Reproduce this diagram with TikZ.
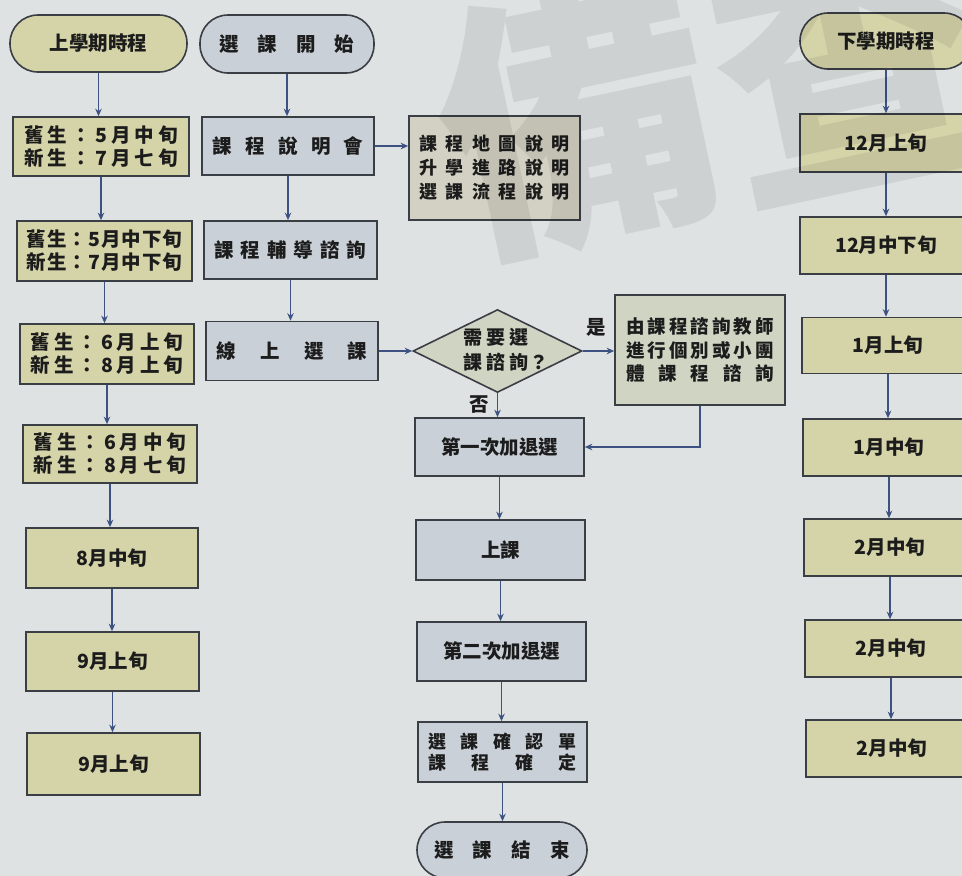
\documentclass[tikz,border=0pt]{standalone}
\usepackage{fontspec}
\setmainfont{Noto Sans CJK TC}
\usetikzlibrary{arrows.meta,shapes.geometric}
\definecolor{bg}{HTML}{DEE2E2}
\definecolor{olivefill}{HTML}{D5D4A9}
\definecolor{bluefill}{HTML}{C9D0D7}
\definecolor{infofill}{HTML}{D3D1C3}
\definecolor{consfill}{HTML}{CFD4C3}
\definecolor{edgecol}{HTML}{3A3E45}
\definecolor{arrcol}{HTML}{3D5283}
\definecolor{txt}{HTML}{1C1C1C}
\newcommand\spreadtext[2]{\makebox[#1][s]{#2}}
\begin{document}
\begin{tikzpicture}[x=1pt,y=-1pt,
  font=\bfseries\fontsize{19.5}{23}\selectfont,
  box/.style={draw=edgecol, line width=1.6pt, inner sep=0pt, align=center, text=txt},
  olbox/.style={box, fill=olivefill},
  blbox/.style={box, fill=bluefill},
  termin/.style={rounded corners=28pt},
  flowarrow/.style={draw=arrcol, line width=1.3pt, -{Stealth[length=7.5pt,width=6.5pt]}},
  lbl/.style={inner sep=0pt, text=txt},
  wm/.style={text=black, opacity=0.075, rotate=12, inner sep=0pt,
    font=\bfseries\fontsize{275}{275}\selectfont}
]
\useasboundingbox (0,0) rectangle (962,876);
\clip (0,0) rectangle (962,876);
\fill[bg] (0,0) rectangle (962,876);

% ---------- left column ----------
\node[olbox, termin, minimum width=177pt, minimum height=57pt] (L0) at (98.5,43.5) {上學期時程};
\node[olbox, minimum width=176pt, minimum height=59pt] (L1) at (101,146.5)
  {\spreadtext{154pt}{舊\hfill 生\hfill ：\hfill 5\hfill 月\hfill 中\hfill 旬}\\
   \spreadtext{154pt}{新\hfill 生\hfill ：\hfill 7\hfill 月\hfill 七\hfill 旬}};
\node[olbox, minimum width=175pt, minimum height=60pt] (L2) at (104.5,251)
  {\spreadtext{155pt}{舊\hfill 生\hfill ：\hfill 5\hfill 月\hfill 中\hfill 下\hfill 旬}\\
   \spreadtext{155pt}{新\hfill 生\hfill ：\hfill 7\hfill 月\hfill 中\hfill 下\hfill 旬}};
\node[olbox, minimum width=174pt, minimum height=60pt] (L3) at (107,354)
  {\spreadtext{153pt}{舊\hfill 生\hfill ：\hfill 6\hfill 月\hfill 上\hfill 旬}\\
   \spreadtext{153pt}{新\hfill 生\hfill ：\hfill 8\hfill 月\hfill 上\hfill 旬}};
\node[olbox, minimum width=174pt, minimum height=58pt] (L4) at (110,454)
  {\spreadtext{152pt}{舊\hfill 生\hfill ：\hfill 6\hfill 月\hfill 中\hfill 旬}\\
   \spreadtext{152pt}{新\hfill 生\hfill ：\hfill 8\hfill 月\hfill 七\hfill 旬}};
\node[olbox, minimum width=172pt, minimum height=60pt] (L5) at (112,558) {8月中旬};
\node[olbox, minimum width=173pt, minimum height=59pt] (L6) at (112.5,661.5) {9月上旬};
\node[olbox, minimum width=173pt, minimum height=62pt] (L7) at (113.5,764) {9月上旬};

\foreach \a/\b in {L0/L1,L1/L2,L2/L3,L3/L4,L4/L5,L5/L6,L6/L7}
  \draw[flowarrow] (\a.south) -- (\a.south |- \b.north);

% ---------- centre column ----------
\node[blbox, termin, minimum width=174pt, minimum height=58pt] (C0) at (287,44)
  {\spreadtext{135pt}{選\hfill 課\hfill 開\hfill 始}};
\node[blbox, minimum width=172pt, minimum height=58pt] (C1) at (288,146)
  {\spreadtext{151pt}{課\hfill 程\hfill 說\hfill 明\hfill 會}};
\node[blbox, minimum width=173pt, minimum height=58pt] (C2) at (290.5,250)
  {\spreadtext{152pt}{課\hfill 程\hfill 輔\hfill 導\hfill 諮\hfill 詢}};
\node[blbox, minimum width=172pt, minimum height=59pt] (C3) at (292,351)
  {\spreadtext{151pt}{線\hfill 上\hfill 選\hfill 課}};

\node[box, fill=infofill, minimum width=171pt, minimum height=104pt,
      font=\bfseries\fontsize{18}{24}\selectfont] (info) at (494.5,168)
  {\spreadtext{150pt}{課\hfill 程\hfill 地\hfill 圖\hfill 說\hfill 明}\\
   \spreadtext{150pt}{升\hfill 學\hfill 進\hfill 路\hfill 說\hfill 明}\\
   \spreadtext{150pt}{選\hfill 課\hfill 流\hfill 程\hfill 說\hfill 明}};

\node[box, fill=consfill, shape=diamond, minimum width=169pt, minimum height=83pt] (dia) at (497.5,351) {};
\node[lbl, align=left, font=\bfseries\fontsize{19}{25}\selectfont] (diatext) at (506,350)
  {需\hspace{4pt}要\hspace{4pt}選\\課\hspace{4pt}諮\hspace{4pt}詢\hspace{1pt}？};

\node[box, fill=consfill, minimum width=170pt, minimum height=110pt,
      font=\bfseries\fontsize{18.5}{23.5}\selectfont] (cons) at (700,350)
  {\spreadtext{148pt}{由\hfill 課\hfill 程\hfill 諮\hfill 詢\hfill 教\hfill 師}\\
   \spreadtext{148pt}{進\hfill 行\hfill 個\hfill 別\hfill 或\hfill 小\hfill 團}\\
   \spreadtext{148pt}{體\hfill 課\hfill 程\hfill 諮\hfill 詢}};

\node[blbox, minimum width=169pt, minimum height=58pt] (D1) at (499.5,447) {第一次加退選};
\node[blbox, minimum width=169pt, minimum height=60pt] (D2) at (500.5,550) {上課};
\node[blbox, minimum width=169pt, minimum height=59pt] (D3) at (501.5,651.5) {第二次加退選};
\node[blbox, minimum width=169pt, minimum height=60pt,
      font=\bfseries\fontsize{18}{21}\selectfont] (D4) at (502.5,752)
  {\spreadtext{148pt}{選\hfill 課\hfill 確\hfill 認\hfill 單}\\
   \spreadtext{148pt}{課\hfill 程\hfill 確\hfill 定}};
\node[blbox, termin, minimum width=170pt, minimum height=56pt] (D5) at (502,850)
  {\spreadtext{135pt}{選\hfill 課\hfill 結\hfill 束}};

\draw[flowarrow] (C0.south) -- (C0.south |- C1.north);
\draw[flowarrow] (C1.south) -- (C1.south |- C2.north);
\draw[flowarrow] (C2.south) -- (C2.south |- C3.north);
\draw[flowarrow] (C1.east) -- (C1.east -| info.west);
\draw[flowarrow] (C3.east) -- (dia.west);
\draw[flowarrow] (dia.east) -- (dia.east -| cons.west);
\draw[flowarrow] (dia.south) -- (dia.south |- D1.north);
\draw[flowarrow] (cons.south) |- (D1.east);
\foreach \a/\b in {D1/D2,D2/D3,D3/D4,D4/D5}
  \draw[flowarrow] (\a.south) -- (\a.south |- \b.north);

\node[lbl] (yes) at (596,327) {是};
\node[lbl] (no) at (479,405) {否};

% ---------- right column ----------
\node[olbox, termin, minimum width=172pt, minimum height=56pt] (R0) at (886,41) {下學期時程};
\node[olbox, minimum width=172pt, minimum height=58pt] (R1) at (886,143) {12月上旬};
\node[olbox, minimum width=172pt, minimum height=57pt] (R2) at (886,245.5) {12月中下旬};
\node[olbox, minimum width=172pt, minimum height=56pt] (R3) at (888,345.5) {1月上旬};
\node[olbox, minimum width=172pt, minimum height=57pt] (R4) at (889,447.5) {1月中旬};
\node[olbox, minimum width=172pt, minimum height=57pt] (R5) at (890,547.5) {2月中旬};
\node[olbox, minimum width=172pt, minimum height=57pt] (R6) at (891,648.5) {2月中旬};
\node[olbox, minimum width=172pt, minimum height=57pt] (R7) at (892,748.5) {2月中旬};
\foreach \a/\b in {R0/R1,R1/R2,R2/R3,R3/R4,R4/R5,R5/R6,R6/R7}
  \draw[flowarrow] (\a.south) -- (\a.south |- \b.north);

% ---------- watermark ----------
\node[wm] (wm1) at (578,118) {備};
\node[wm] (wm2) at (852,62) {查};
\end{tikzpicture}
\end{document}
